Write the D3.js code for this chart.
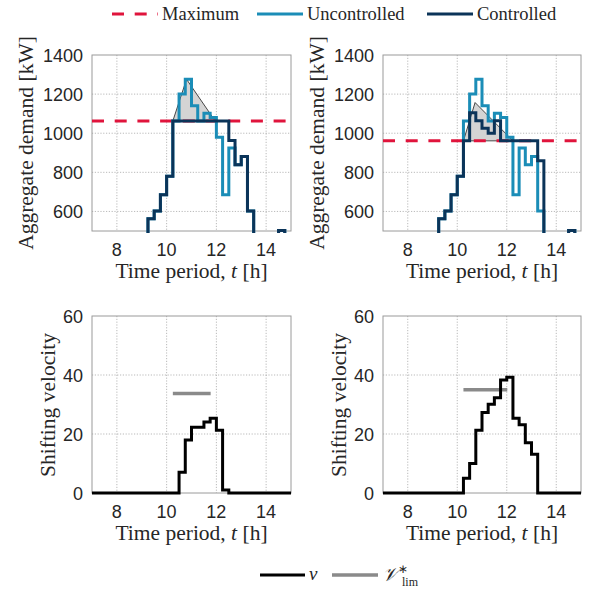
<!DOCTYPE html>
<html>
<head>
<meta charset="utf-8">
<script src="https://cdn.jsdelivr.net/npm/d3@7"></script>
<style>
  body{margin:0;background:#fff;}
  svg{display:block;}
</style>
</head>
<body>
<svg id="chart" width="595" height="593"></svg>
<script>
// 15-minute periods, start of each interval [h]
const periods=d3.range(7,15,0.25);
const periodEnd=15;

// aggregate demand [kW] per period (values below 500 are off the axis)
const uncontrolled=[380,390,400,410,420,430,440,455,480,563,602,686,780,1063,1200,1276,1141,1063,1102,1081,980,686,924,839,881,602,470,440,460,480,502,470];
const controlledA=[380,390,400,410,420,430,440,455,480,563,602,686,780,1063,1063,1063,1063,1063,1063,1063,1063,1063,963,839,881,602,470,440,460,480,502,470];
const controlledB=[380,390,400,410,420,430,440,455,480,563,602,686,780,961,1105,1064,1025,1000,1064,961,961,961,961,961,961,859,470,440,460,480,502,470];
const maxA=1063, maxB=961;

// peak triangle (t, kW) drawn above the maximum
const peakA_t=[10.25,10.8,11.95], peakA_v=[1063,1276,1063];
const peakB_t=[10.25,10.72,12.25], peakB_v=[961,1157,961];

// shifting velocity per period
const velocityA=[0,0,0,0,0,0,0,0,0,0,0,0,0,0,7,18,22.3,22.3,24.1,25.3,21.3,1,0,0,0,0,0,0,0,0,0,0];
const velocityB=[0,0,0,0,0,0,0,0,0,0,0,0,0,5,10,21.3,27.3,30.1,32.3,38.3,39.2,25.3,23.1,17,13.1,0,0,0,0,0,0,0];
const vlimA={from:10.25,to:11.77,value:33.7};
const vlimB={from:10.25,to:12.02,value:35};

const xTicks=[8,10,12,14];
const demandTicks=[600,800,1000,1200,1400];
const velocityTicks=[0,20,40,60];

const C_unc="#1b8db7", C_ctl="#0b3459", C_max="#e0143c", C_v="#000", C_lim="#8a8a8a";
const SERIF="'Liberation Serif','Times New Roman',serif";
const SANS="'Liberation Sans',Arial,sans-serif";

const svg=d3.select("#chart");
svg.append("rect").attr("width",595).attr("height",593).attr("fill","#fff");

function stepPts(vals){
  const pts=periods.map((t,i)=>[t,vals[i]]);
  pts.push([periodEnd,vals[vals.length-1]]);
  return pts;
}

let clipN=0;
function panel(o){
  const x=d3.scaleLinear().domain([7,15]).range([o.x0,o.x1]);
  const y=d3.scaleLinear().domain(o.yDomain).range([o.y1,o.y0]);
  const g=svg.append("g");
  // grid
  g.selectAll(".gx").data(xTicks).join("line")
    .attr("x1",d=>x(d)).attr("x2",d=>x(d)).attr("y1",o.y0).attr("y2",o.y1)
    .attr("stroke","#8c8c8c").attr("stroke-width",0.6).attr("stroke-dasharray","1.2,1.6");
  g.selectAll(".gy").data(o.yTicks.filter(d=>d>o.yDomain[0]&&d<o.yDomain[1])).join("line")
    .attr("x1",o.x0).attr("x2",o.x1).attr("y1",d=>y(d)).attr("y2",d=>y(d))
    .attr("stroke","#8c8c8c").attr("stroke-width",0.6).attr("stroke-dasharray","1.2,1.6");
  // box
  g.append("rect").attr("x",o.x0).attr("y",o.y0).attr("width",o.x1-o.x0).attr("height",o.y1-o.y0)
    .attr("fill","none").attr("stroke","#9a9a9a").attr("stroke-width",1);
  // tick labels
  g.selectAll(".tx").data(xTicks).join("text")
    .attr("x",d=>x(d)).attr("y",o.y1+25).attr("text-anchor","middle")
    .attr("font-family",SANS).attr("font-size",18).attr("fill","#262626").text(d=>d);
  g.selectAll(".ty").data(o.yTicks).join("text")
    .attr("x",o.x0-9).attr("y",d=>y(d)+6.5).attr("text-anchor","end")
    .attr("font-family",SANS).attr("font-size",18).attr("fill","#262626").text(d=>d);
  // axis labels
  const xl=g.append("text").attr("x",(o.x0+o.x1)/2).attr("y",o.y1+47).attr("text-anchor","middle")
    .attr("font-family",SERIF).attr("font-size",21.5).attr("fill","#262626");
  xl.append("tspan").text("Time period, ");
  xl.append("tspan").attr("font-style","italic").text("t");
  xl.append("tspan").text(" [h]");
  g.append("text").attr("transform",`translate(${o.ylx},${o.yly}) rotate(-90)`)
    .attr("text-anchor","middle").attr("dy","0.35em")
    .attr("font-family",SERIF).attr("font-size",21.5).attr("fill","#262626").text(o.ylabel);
  // clip
  const id="clip"+(clipN++);
  svg.append("clipPath").attr("id",id).append("rect")
    .attr("x",o.x0-2).attr("y",o.y0-2).attr("width",o.x1-o.x0+4).attr("height",o.y1-o.y0+4);
  const d=g.append("g").attr("clip-path",`url(#${id})`);
  return {x,y,d};
}

const line=(x,y)=>d3.line().x(p=>x(p[0])).y(p=>y(p[1])).curve(d3.curveStepAfter);

function demandPanel(o,ctl,maxV,pt,pv){
  const {x,y,d}=panel(Object.assign(o,{yDomain:[500,1400],yTicks:demandTicks,ylabel:"Aggregate demand [kW]"}));
  const tri=pt.map((t,i)=>[x(t),y(pv[i])]);
  d.append("path").attr("d",d3.line()(tri)+"Z").attr("fill","#d4d4d4").attr("stroke","#000").attr("stroke-width",0.7);
  d.append("line").attr("x1",o.x0).attr("x2",o.x1).attr("y1",y(maxV)).attr("y2",y(maxV))
    .attr("stroke",C_max).attr("stroke-width",3).attr("stroke-dasharray","12,10.7");
  d.append("path").attr("d",line(x,y)(stepPts(uncontrolled))).attr("fill","none")
    .attr("stroke",C_unc).attr("stroke-width",3).attr("stroke-linejoin","miter");
  d.append("path").attr("d",line(x,y)(stepPts(ctl))).attr("fill","none")
    .attr("stroke",C_ctl).attr("stroke-width",3).attr("stroke-linejoin","miter");
}

function velocityPanel(o,vel,lim){
  const {x,y,d}=panel(Object.assign(o,{yDomain:[0,60],yTicks:velocityTicks,ylabel:"Shifting velocity"}));
  d.append("line").attr("x1",x(lim.from)).attr("x2",x(lim.to)).attr("y1",y(lim.value)).attr("y2",y(lim.value))
    .attr("stroke",C_lim).attr("stroke-width",3.5);
  d.append("path").attr("d",line(x,y)(stepPts(vel))).attr("fill","none")
    .attr("stroke",C_v).attr("stroke-width",3).attr("stroke-linejoin","miter");
}

demandPanel({x0:92,x1:291,y0:55,y1:231,ylx:25,yly:143},controlledA,maxA,peakA_t,peakA_v);
demandPanel({x0:383,x1:581,y0:55,y1:231,ylx:316,yly:143},controlledB,maxB,peakB_t,peakB_v);
velocityPanel({x0:92,x1:291,y0:316,y1:493,ylx:47,yly:405},velocityA,vlimA);
velocityPanel({x0:383,x1:581,y0:316,y1:493,ylx:338,yly:405},velocityB,vlimB);

// top legend
const lg=svg.append("g").attr("font-family",SERIF).attr("font-size",18.5).attr("fill","#262626");
const topItems=[
  {x:112,label:"Maximum",color:C_max,dash:"12,10.7"},
  {x:257,label:"Uncontrolled",color:C_unc,dash:null},
  {x:427,label:"Controlled",color:C_ctl,dash:null}
];
topItems.forEach(it=>{
  lg.append("line").attr("x1",it.x).attr("x2",it.x+46).attr("y1",14).attr("y2",14)
    .attr("stroke",it.color).attr("stroke-width",3).attr("stroke-dasharray",it.dash);
  lg.append("text").attr("x",it.x+50).attr("y",20).text(it.label);
});

// bottom legend
const bl=svg.append("g").attr("font-family",SERIF).attr("fill","#262626");
bl.append("line").attr("x1",260).attr("x2",305).attr("y1",575).attr("y2",575).attr("stroke",C_v).attr("stroke-width",3);
bl.append("text").attr("x",309).attr("y",580).attr("font-size",19).attr("font-style","italic").text("v");
bl.append("line").attr("x1",332).attr("x2",378).attr("y1",575).attr("y2",575).attr("stroke",C_lim).attr("stroke-width",3.5);
const vt=bl.append("text").attr("x",382).attr("y",581).attr("font-size",19);
vt.append("tspan").attr("font-style","italic").text("𝒱");
vt.append("tspan").attr("font-size",12).attr("dy",-8).text("∗");
vt.append("tspan").attr("font-size",12).attr("dx",-6).attr("dy",13).text("lim");
</script>
</body>
</html>
